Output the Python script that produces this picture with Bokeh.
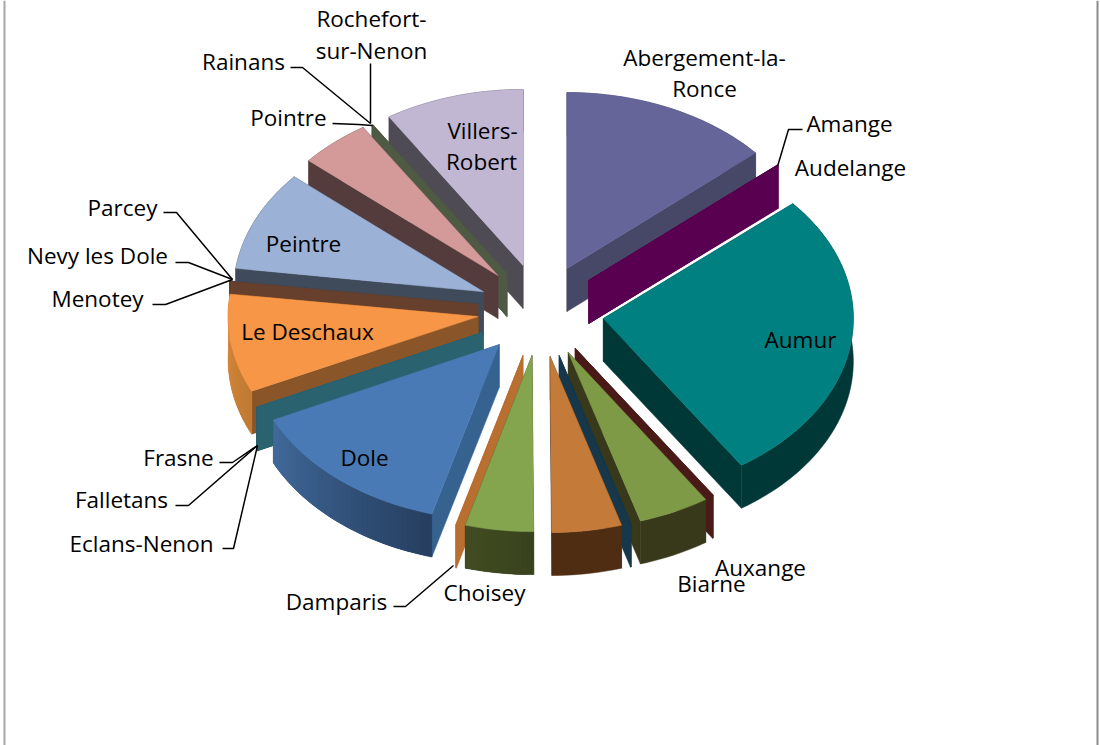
import math
from bokeh.plotting import figure
from bokeh.models import Range1d
from bokeh.core.properties import value
from bokeh.embed import file_html
from bokeh.resources import INLINE

names = ["Abergement-la-Ronce", "Amange", "Audelange", "Aumur", "Auxange", "Biarne", "", "",
         "Choisey", "Damparis", "Dole", "Eclans-Nenon", "Falletans", "Frasne", "Le Deschaux",
         "Menotey", "Nevy les Dole", "Parcey", "Peintre", "Pointre", "Rainans",
         "Rochefort-sur-Nenon", "Villers-Robert"]
values = [13.6, 0.03, 0.05, 27.0, 0.05, 4.6, 0.05, 4.5,
          4.4, 0.05, 13.6, 0.02, 0.02, 0.05, 9.0,
          0.05, 0.02, 0.02, 9.2, 4.6, 0.02, 0.05, 9.0]
explode = [.271, .268, .268, .26, .252, .258, .26, .257,
           .249, .255, .244, .252, .252, .252, .245,
           .248, .25, .25, .25, .264, .254, .254, .272]
explode_angle = [24.4, 48, 48, 98.2, 145, 153, 162, 170,
                 186.5, 194.5, 220.7, 242.6, 242.6, 242.6, 263.9,
                 280, 280, 280, 297.4, 321.6, 329.7, 329.7, 346.4]
top_colors = ["#65659a", "#5a0050", "#5a0050", "#008080", "#4a1a18", "#7f9a46", "#17384a", "#c47a38",
              "#85a44e", "#b86f30", "#4a7ab5", "#2a6270", "#2a6270", "#2a6270", "#f79646",
              "#66402d", "#3f4a5a", "#3f4a5a", "#9bb1d5", "#d49a9a", "#4f5a44", "#4f5a44", "#c1b7d3"]
wall_colors = ["#474768", "#5a0050", "#5a0050", "#003838", "#4a1a18", "#38391a", "#17384a", "#4f2d12",
               "#3f4a20", "#b86f30", "#366290", "#2a6270", "#2a6270", "#2a6270", "#8a5528",
               "#66402d", "#3f4a5a", "#3f4a5a", "#3f4a5a", "#553c3c", "#4f5a44", "#4f5a44", "#4e4b55"]
rim_start = ["#474768", "#5a0050", "#5a0050", "#003838", "#4a1a18", "#38391a", "#17384a", "#4f2d12",
             "#38421d", "#b86f30", "#263f60", "#2a6270", "#2a6270", "#2a6270", "#c07a32",
             "#66402d", "#3f4a5a", "#3f4a5a", "#3f4a5a", "#553c3c", "#4f5a44", "#4f5a44", "#4e4b55"]
rim_end = ["#474768", "#5a0050", "#5a0050", "#003838", "#4a1a18", "#38391a", "#17384a", "#4f2d12",
           "#414c22", "#b86f30", "#40699a", "#2a6270", "#2a6270", "#2a6270", "#dc8c3e",
           "#66402d", "#3f4a5a", "#3f4a5a", "#3f4a5a", "#553c3c", "#4f5a44", "#4f5a44", "#4e4b55"]

label_text = ["Rochefort-", "sur-Nenon", "Rainans", "Pointre", "Abergement-la-", "Ronce", "Amange",
              "Audelange", "Villers-", "Robert", "Parcey", "Nevy les Dole", "Menotey", "Peintre",
              "Le Deschaux", "Aumur", "Dole", "Frasne", "Falletans", "Eclans-Nenon", "Damparis",
              "Choisey", "Biarne", "Auxange"]
label_x = [371, 371, 243, 288, 704, 704, 849, 850, 482, 481, 122, 97, 97, 303, 307, 800, 364, 178,
           121, 141, 336, 484, 711, 760]
label_y = [18, 50, 61, 117, 57, 88, 123, 167, 130, 161, 207, 255, 298, 243, 331, 339, 457, 457,
           499, 543, 601, 592, 583, 567]
leader_x = [[802, 788, 777], [290, 302, 370], [370, 370], [332, 358, 372], [163, 176, 232],
            [175, 188, 232], [152, 165, 232], [219, 232, 257], [175, 188, 257], [222, 233, 257],
            [393, 405, 453]]
leader_y = [[129, 129, 166], [67, 67, 123], [63, 123], [123, 124, 125], [212, 212, 279],
            [262, 262, 279], [304, 304, 279], [462, 462, 445], [505, 505, 445], [548, 548, 445],
            [606, 606, 565]]

CX, CY, RX, RY, DEPTH = 538.5, 311.5, 250.0, 176.0, 43.0


def mix(c1, c2, t):
    a = [int(c1[i:i + 2], 16) for i in (1, 3, 5)]
    b = [int(c2[i:i + 2], 16) for i in (1, 3, 5)]
    return "#%02x%02x%02x" % tuple(round(u + (w - u) * t) for u, w in zip(a, b))


total = sum(values)
slices = []
cum = 0.0
for i, v in enumerate(values):
    start = cum / total * 360
    cum += v
    end = cum / total * 360
    slices.append((i, start, end, (start + end) / 2))
slices.sort(key=lambda s: -abs(s[3] - 180))

p = figure(width=1100, height=745, output_backend="svg", toolbar_location=None,
           x_range=Range1d(0, 1100), y_range=Range1d(745, 0), min_border=0,
           outline_line_color=None, background_fill_color="white", border_fill_color="white")
p.axis.visible = False
p.grid.visible = False

# chart frame
p.line([4, 4], [0, 745], line_color="#a6a6a6", line_width=2)
p.line([1097, 1097], [0, 745], line_color="#8c8c8c", line_width=2)

for i, a0, a1, mid in slices:
    ax = CX + explode[i] * RX * math.sin(math.radians(explode_angle[i]))
    ay = CY - explode[i] * RY * math.cos(math.radians(explode_angle[i]))
    n = max(2, int((a1 - a0) / 1.5) + 2)
    angs = [a0 + (a1 - a0) * k / (n - 1) for k in range(n)]
    xs = [ax + RX * math.sin(math.radians(t)) for t in angs]
    ys = [ay - RY * math.cos(math.radians(t)) for t in angs]
    # radial walls
    for j in (0, n - 1):
        p.patch([ax, xs[j], xs[j], ax], [ay, ys[j], ys[j] + DEPTH, ay + DEPTH],
                fill_color=wall_colors[i], line_color=wall_colors[i], line_width=0.5)
    # outer rim: one solid shape, with overlapping strips for the shading where it has any
    base = mix(rim_start[i], rim_end[i], 0.5)
    p.patch(xs + xs[::-1], ys + [y + DEPTH for y in ys[::-1]],
            fill_color=base, line_color=base, line_width=0.5)
    if rim_start[i] != rim_end[i]:
        for k in range(n - 1):
            c = mix(rim_start[i], rim_end[i], k / max(1, n - 2))
            e = min(k + 2, n - 1)
            sx = xs[k:e + 1]
            sy = ys[k:e + 1]
            p.patch(sx + sx[::-1], sy + [y + DEPTH for y in sy[::-1]], fill_color=c, line_color=None)
    # top face
    p.patch([ax] + xs, [ay] + ys, fill_color=top_colors[i], line_color=top_colors[i], line_width=0.5)

for lx, ly in zip(leader_x, leader_y):
    p.line(lx, ly, line_color="black", line_width=1.5)

p.text(label_x, label_y, text=label_text, text_font=value("Open Sans"), text_font_size="22.5px",
       text_align="center", text_baseline="middle", text_color="black")

open("out.html", "w").write(file_html(p, INLINE))
